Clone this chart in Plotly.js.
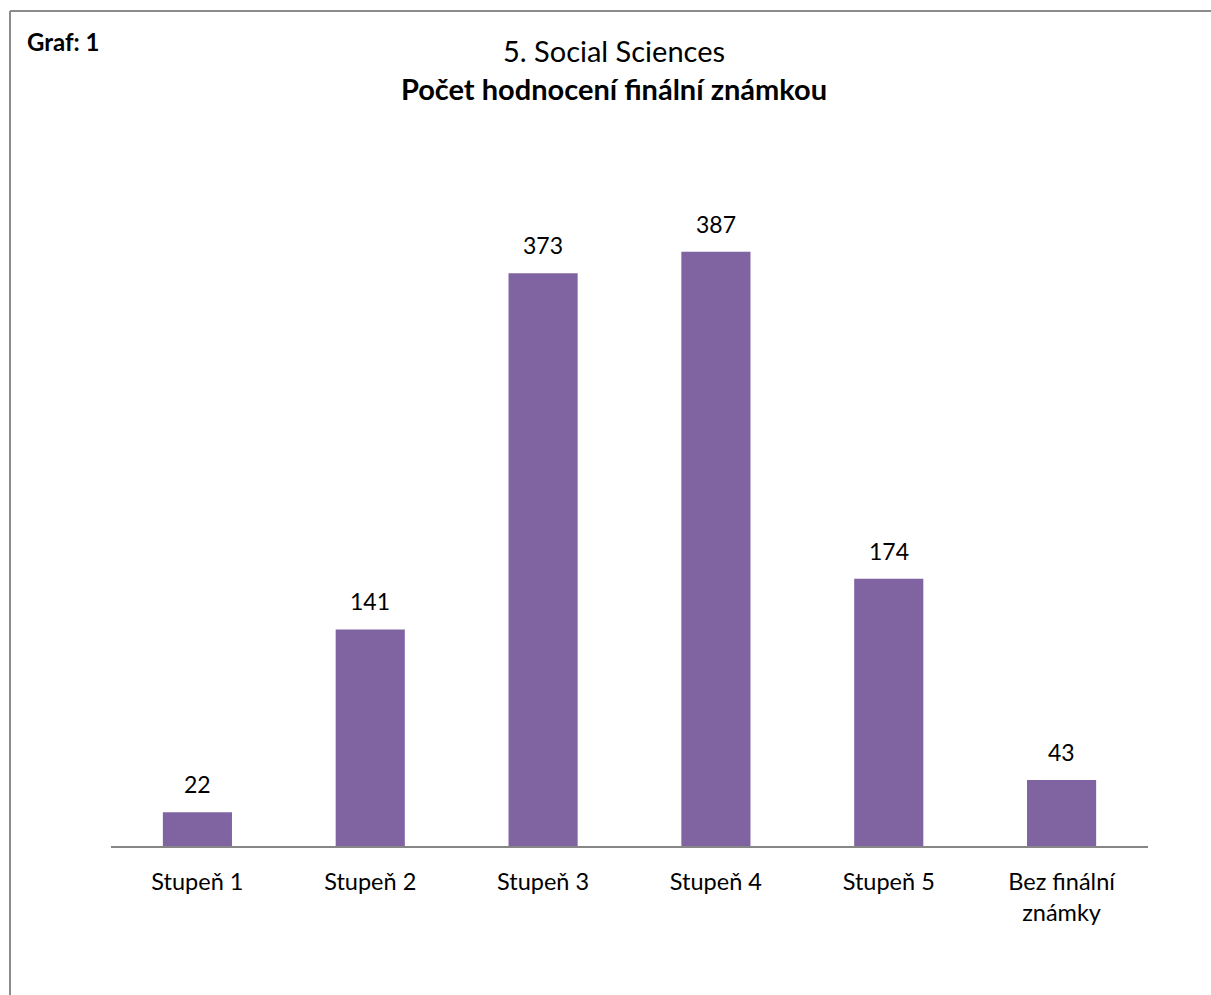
<!DOCTYPE html>
<html>
<head>
<meta charset="utf-8">
<script src="https://cdn.plot.ly/plotly-3.0.1.min.js"></script>
<style>html,body{margin:0;padding:0;background:#fff;}#chart{width:1211px;height:995px;}</style>
</head>
<body>
<div id="chart"></div>
<script>
var categories = ["Stupeň 1", "Stupeň 2", "Stupeň 3", "Stupeň 4", "Stupeň 5", "Bez finální<br>známky"];
var counts = [22, 141, 373, 387, 174, 43];
var chartLabel = "Graf: 1";
var titleLine1 = "5. Social Sciences";
var titleLine2 = "Počet hodnocení finální známkou";

var FONT = "Lato, 'Open Sans', sans-serif";
var L = 111, R = 63, T = 155, B = 149, W = 1211, H = 995;
var pw = W - L - R, ph = H - T - B;
function px(x){ return (x - L) / pw; }
function py(y){ return (H - B - y) / ph; }

var trace = {
  type: "bar",
  x: categories,
  y: counts,
  marker: {color: "#8064A2"},
  hoverinfo: "x+y"
};

var annotations = counts.map(function(v, i){
  return {
    x: categories[i], y: v, xref: "x", yref: "y",
    text: String(v), showarrow: false,
    xanchor: "center", yanchor: "bottom", yshift: 12,
    font: {family: FONT, size: 23, color: "#000"}
  };
});
annotations.push({
  xref: "paper", yref: "paper", x: px(25), y: py(41.5),
  xanchor: "left", yanchor: "middle", showarrow: false,
  text: "<b>" + chartLabel + "</b>",
  font: {family: FONT, size: 24, color: "#000"}
});

var layout = {
  width: W, height: H,
  margin: {l: L, r: R, t: T, b: B, pad: 0},
  paper_bgcolor: "#fff", plot_bgcolor: "#fff",
  showlegend: false,
  bargap: 0.6,
  title: {
    text: titleLine1 + "<br><b>" + titleLine2 + "</b>",
    xref: "container", yref: "container",
    x: 614 / W, xanchor: "center",
    y: 1 - 62 / H, yanchor: "top",
    font: {family: FONT, size: 29, color: "#000"}
  },
  xaxis: {
    type: "category",
    showline: true, linecolor: "#868686", linewidth: 1.5,
    showgrid: false, zeroline: false,
    ticks: "", ticklabelstandoff: 14,
    tickfont: {family: FONT, size: 23.5, color: "#000"},
    fixedrange: true
  },
  yaxis: {
    range: [0, 450],
    visible: false,
    showgrid: false, zeroline: false,
    fixedrange: true
  },
  annotations: annotations,
  shapes: [
    {type: "line", xref: "paper", yref: "paper", x0: px(10), x1: px(1215), y0: py(11), y1: py(11),
     line: {color: "#8c8c8c", width: 2}},
    {type: "line", xref: "paper", yref: "paper", x0: px(10), x1: px(10), y0: py(11), y1: py(1000),
     line: {color: "#8c8c8c", width: 2}}
  ]
};

Plotly.newPlot("chart", [trace], layout, {displayModeBar: false});
</script>
</body>
</html>
